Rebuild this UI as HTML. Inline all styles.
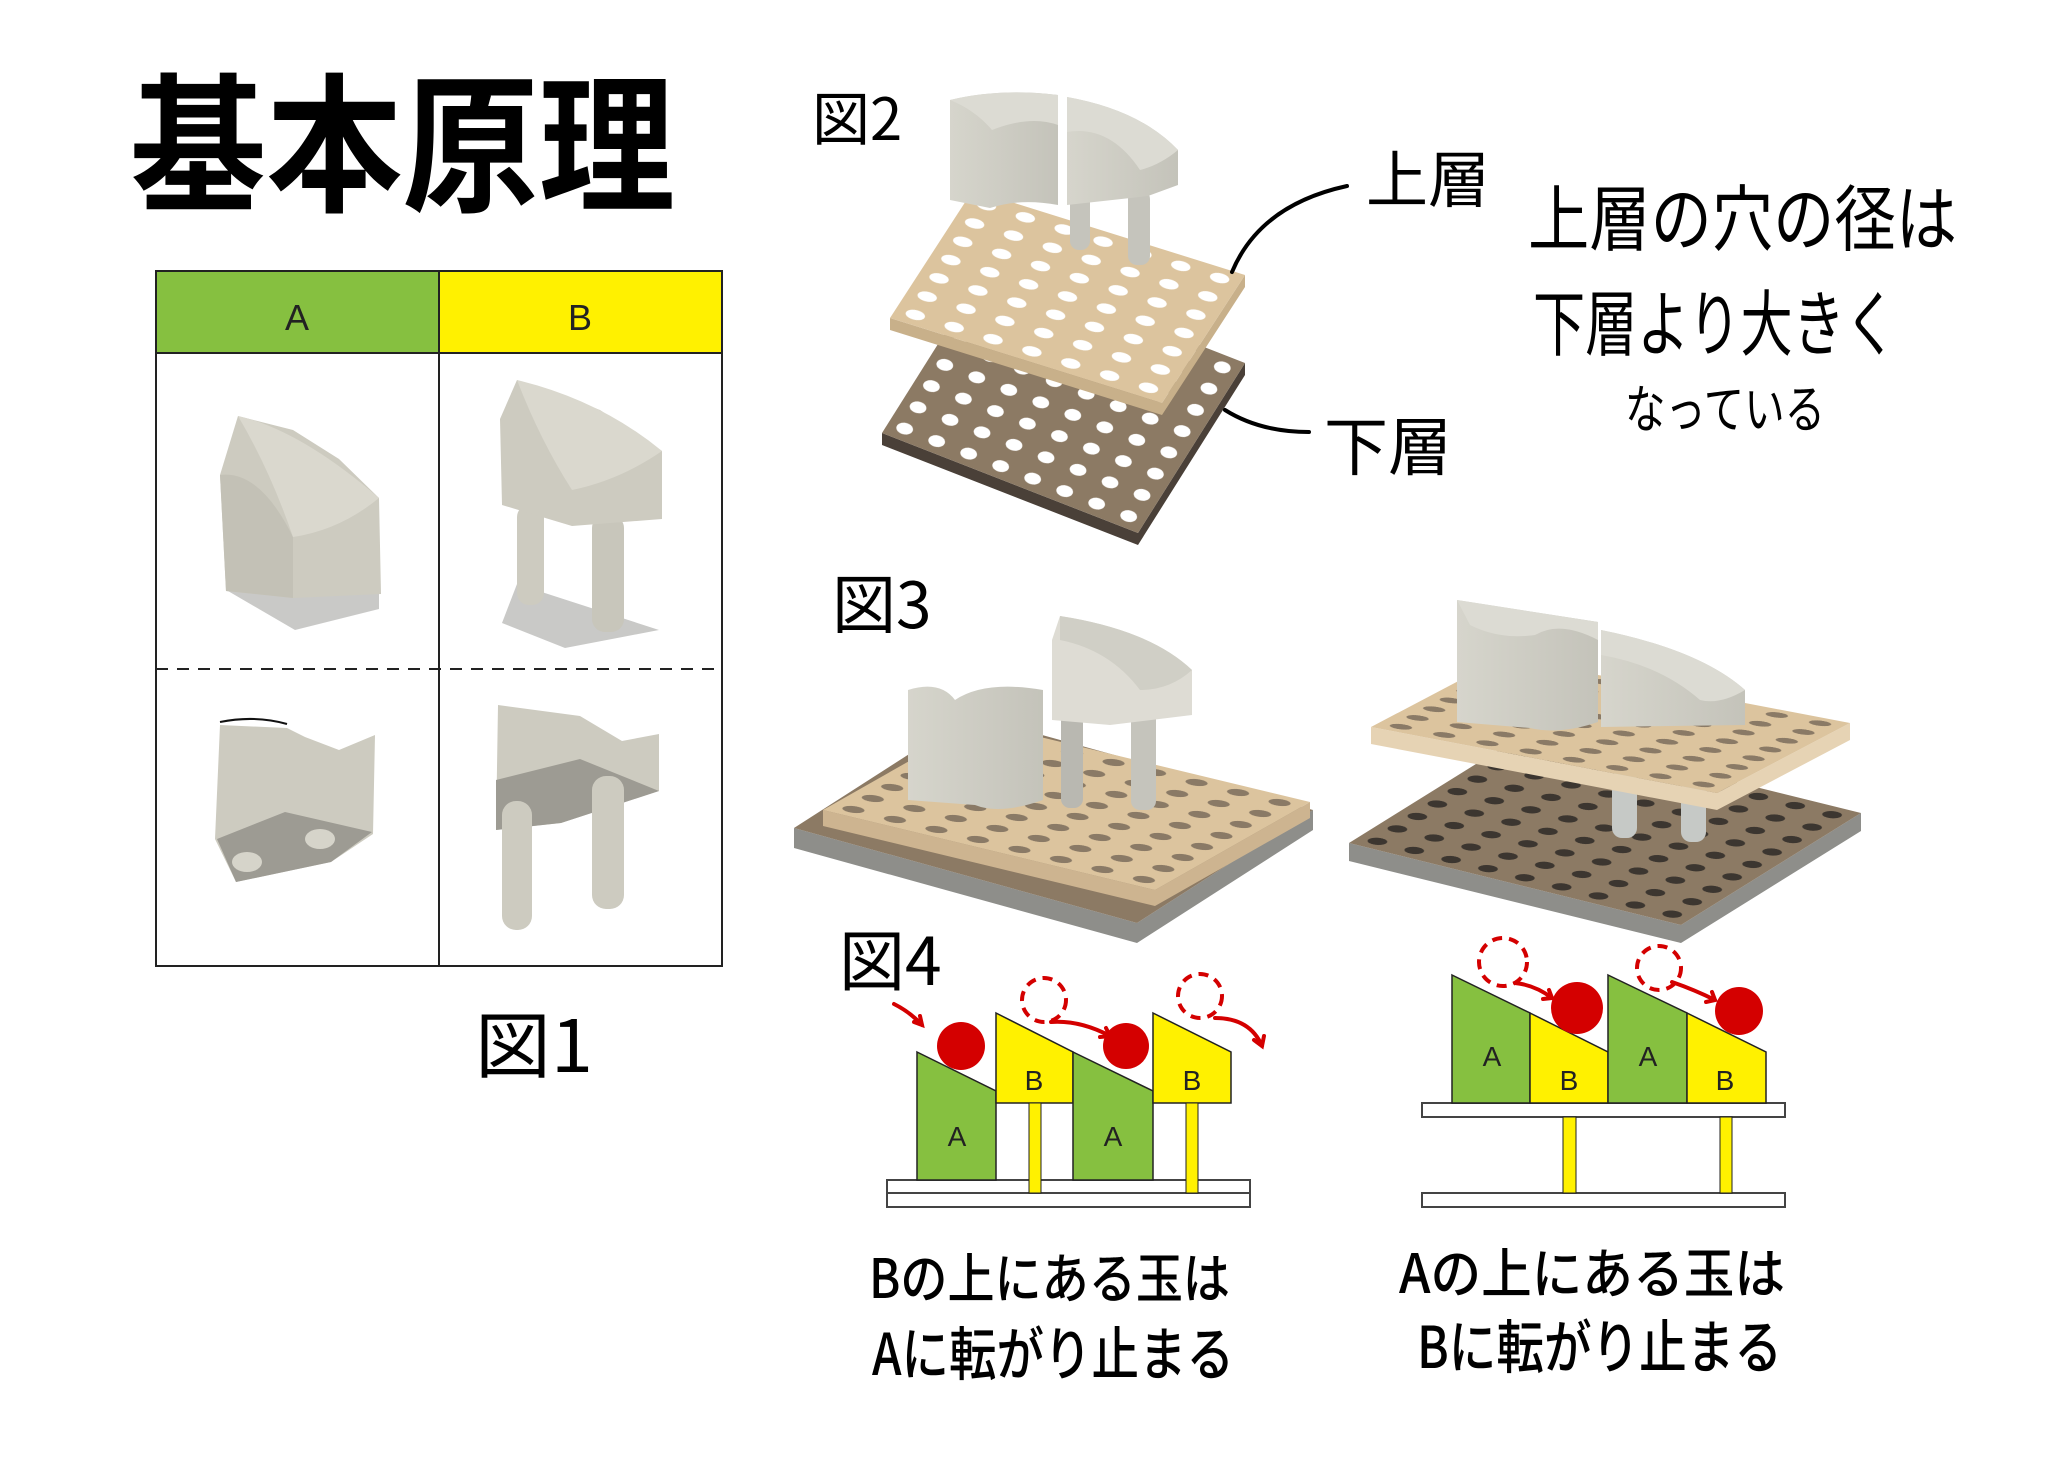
<!DOCTYPE html>
<html><head><meta charset="utf-8"><style>
html,body{margin:0;padding:0;background:#fff;}
svg{display:block;}
text{font-family:"Liberation Sans","Noto Sans CJK JP",sans-serif;}
.hw{font-family:"Noto Sans CJK JP","WenQuanYi Zen Hei",sans-serif;fill:#000;}
</style></head><body>
<svg width="2048" height="1460" viewBox="0 0 2048 1460" xmlns="http://www.w3.org/2000/svg">
<defs>
<pattern id="hl" width="0.142857" height="0.142857" patternUnits="userSpaceOnUse"><rect width="0.142857" height="0.142857" fill="#dcc49e"/><circle cx="0.0714" cy="0.0714" r="0.034" fill="#fff"/></pattern>
<pattern id="hd" width="0.125" height="0.125" patternUnits="userSpaceOnUse"><rect width="0.125" height="0.125" fill="#8c7a64"/><circle cx="0.0625" cy="0.0625" r="0.03" fill="#fff"/></pattern>
<pattern id="hl3" width="0.125" height="0.125" patternUnits="userSpaceOnUse"><rect width="0.125" height="0.125" fill="#dcc49e"/><circle cx="0.0625" cy="0.0625" r="0.03" fill="#8a7a66"/></pattern>
<pattern id="hd3" width="0.111" height="0.111" patternUnits="userSpaceOnUse"><rect width="0.111" height="0.111" fill="#8c7a64"/><circle cx="0.0555" cy="0.0555" r="0.026" fill="#3c3630"/></pattern>
<linearGradient id="gp" x1="0" y1="0" x2="1" y2="0"><stop offset="0" stop-color="#d6d5cc"/><stop offset="1" stop-color="#c4c3ba"/></linearGradient>
</defs>
<rect width="2048" height="1460" fill="#fff"/>

<!-- Title -->
<text class="hw" x="130" y="200" font-size="150" font-weight="700" textLength="545" lengthAdjust="spacingAndGlyphs">基本原理</text>

<!-- Table -->
<rect x="156" y="271" width="283" height="82" fill="#86c040"/>
<rect x="439" y="271" width="283" height="82" fill="#fff100"/>
<rect x="156" y="271" width="566" height="695" fill="none" stroke="#222" stroke-width="2"/>
<line x1="156" y1="353" x2="722" y2="353" stroke="#222" stroke-width="2"/>
<line x1="439" y1="271" x2="439" y2="966" stroke="#222" stroke-width="2"/>
<line x1="156" y1="669" x2="722" y2="669" stroke="#222" stroke-width="2" stroke-dasharray="12,9"/>
<text x="297" y="330" font-size="36" text-anchor="middle" fill="#222">A</text>
<text x="580" y="330" font-size="36" text-anchor="middle" fill="#222">B</text>

<!-- A top -->
<polygon points="228,591 379,594 379,609 295,630" fill="#c9c9c7"/>
<polygon points="220,475 238,416 293,430 339,459 379,498 381,594 293,598 226,591" fill="#cdcbc0"/>
<path d="M220,475 Q260,470 293,537 L293,598 L226,591 Z" fill="#c3c1b6"/>
<path d="M238,416 Q300,430 379,498 Q340,530 293,537 Q270,470 238,416 Z" fill="#dad8ce"/>
<!-- B top -->
<polygon points="502,623 517,584 659,630 565,648" fill="#c9c9c7"/>
<rect x="517" y="505" width="27" height="100" rx="12" fill="#cdcbc0"/>
<rect x="592" y="515" width="32" height="117" rx="13" fill="#c8c6bb"/>
<polygon points="500,419 517,380 600,410 662,451 662,519 572,526 502,505" fill="#cdcbc0"/>
<path d="M517,380 Q600,400 662,451 Q620,480 572,490 Q540,440 517,380 Z" fill="#dad8ce"/>
<!-- A bottom -->
<polygon points="220,725 287,728 305,737 339,750 375,735 373,834 331,862 236,882 215,839" fill="#cdcbc0"/>
<polygon points="217,839 285,812 372,832 331,862 236,882" fill="#9d9b93"/>
<path d="M220,722 Q255,715 287,724" stroke="#111" stroke-width="2" fill="none"/>
<ellipse cx="247" cy="862" rx="15" ry="10" fill="#d6d4ca"/>
<ellipse cx="320" cy="839" rx="15" ry="10" fill="#d6d4ca"/>
<!-- B bottom -->
<polygon points="498,705 580,716 622,741 659,734 659,791 561,823 496,830" fill="#cdcbc0"/>
<polygon points="496,780 580,759 659,791 561,823 496,830" fill="#9d9b93"/>
<rect x="502" y="801" width="30" height="129" rx="14" fill="#cdcbc0"/>
<rect x="592" y="776" width="32" height="133" rx="14" fill="#cdcbc0"/>

<text class="hw" x="475" y="1072" font-size="72" font-weight="400" textLength="118" lengthAdjust="spacingAndGlyphs">図1</text>

<!-- Fig 2 -->
<text class="hw" x="812" y="140" font-size="58" font-weight="400">図2</text>
<polygon points="882,433 1138,533 1245,363 1245,375 1138,545 882,445" fill="#4a4038"/>
<g transform="matrix(256 100 107 -170 882 433)"><rect width="1" height="1" fill="url(#hd)"/></g>
<polygon points="890,318 1162,403 1245,275 1245,287 1162,415 890,330" fill="#c8b08a"/>
<g transform="matrix(272 85 83 -128 890 318)"><rect width="1" height="1" fill="url(#hl)"/></g>
<rect x="1070" y="185" width="20" height="65" rx="9" fill="#c5c4bc"/>
<rect x="1128" y="190" width="22" height="75" rx="9" fill="#c5c4bc"/>
<path d="M950,100 Q1000,88 1058,95 L1058,205 Q1020,198 990,208 L950,200 Z" fill="url(#gp)"/>
<path d="M950,100 Q1000,88 1058,95 L1058,125 Q1030,115 992,130 Q975,110 950,100 Z" fill="#dcdbd3"/>
<path d="M1067,97 Q1140,110 1178,150 L1178,185 L1148,196 L1067,205 Z" fill="url(#gp)"/>
<path d="M1067,97 Q1140,110 1178,150 Q1160,165 1140,170 Q1110,125 1067,132 Z" fill="#dcdbd3"/>
<path d="M1232,272 Q1260,205 1347,186" stroke="#000" stroke-width="4" fill="none" stroke-linecap="round"/>
<path d="M1225,410 Q1260,432 1309,432" stroke="#000" stroke-width="4" fill="none" stroke-linecap="round"/>
<text class="hw" x="1366" y="202" font-size="62" font-weight="400">上層</text>
<text class="hw" x="1324" y="470" font-size="64" font-weight="400">下層</text>

<text class="hw" x="1528" y="245" font-size="72" font-weight="400" textLength="429" lengthAdjust="spacingAndGlyphs">上層の穴の径は</text>
<text class="hw" x="1533" y="350" font-size="72" font-weight="400" textLength="364" lengthAdjust="spacingAndGlyphs">下層より大きく</text>
<text class="hw" x="1625" y="428" font-size="52" font-weight="400" textLength="200" lengthAdjust="spacingAndGlyphs">なっている</text>

<!-- Fig 3 -->
<text class="hw" x="832" y="628" font-size="64" font-weight="400">図3</text>
<polygon points="794,828 1137,923 1313,810 1313,830 1137,943 794,848" fill="#8e8e8a"/>
<polygon points="794,828 1137,923 1313,810 970,715" fill="#8c7a64"/>
<polygon points="823,810 1155,890 1310,802 1310,818 1155,906 823,826" fill="#cdb490"/>
<g transform="matrix(332 80 155 -88 823 810)"><rect width="1" height="1" fill="url(#hl3)"/></g>
<path d="M908,690 Q940,680 955,700 Q985,680 1043,690 L1043,800 Q1000,815 975,805 L908,800 Z" fill="url(#gp)"/>
<rect x="1061" y="710" width="22" height="98" rx="9" fill="#b9b8b1"/>
<rect x="1131" y="710" width="25" height="100" rx="9" fill="#c5c4bc"/>
<path d="M1052,640 L1060,616 Q1150,630 1192,670 L1192,715 L1110,725 L1052,720 Z" fill="#dedcd4"/>
<path d="M1060,616 Q1150,630 1192,670 Q1170,690 1140,690 Q1110,650 1060,640 Z" fill="#d0cfc6"/>
<polygon points="1349,843 1681,925 1861,813 1861,831 1681,943 1349,861" fill="#8e8e8a"/>
<g transform="matrix(332 82 180 -112 1349 843)"><rect width="1" height="1" fill="url(#hd3)"/></g>
<rect x="1612" y="770" width="25" height="68" rx="10" fill="#c6c9c6"/>
<rect x="1681" y="780" width="25" height="62" rx="10" fill="#c6c9c6"/>
<polygon points="1371,727 1717,793 1850,723 1850,740 1717,810 1371,744" fill="#e6d3b4"/>
<g transform="matrix(346 66 133 -70 1371 727)"><rect width="1" height="1" fill="url(#hl3)"/></g>
<path d="M1457,600 L1598,622 L1598,722 Q1560,735 1530,728 L1457,722 Z" fill="url(#gp)"/>
<path d="M1457,600 L1598,622 L1598,640 Q1560,620 1535,635 Q1500,640 1470,625 Z" fill="#dcdbd3"/>
<path d="M1601,630 Q1700,650 1745,690 L1745,725 L1601,727 Z" fill="url(#gp)"/>
<path d="M1601,630 Q1700,650 1745,690 Q1720,705 1700,700 Q1660,665 1601,655 Z" fill="#dcdbd3"/>

<!-- Fig 4 -->
<text class="hw" x="839" y="985" font-size="66" font-weight="400">図4</text>
<rect x="887" y="1180" width="363" height="13" fill="#fff" stroke="#444" stroke-width="2"/>
<rect x="887" y="1193" width="363" height="14" fill="#fff" stroke="#444" stroke-width="2"/>
<polygon points="917,1052 996,1091 996,1180 917,1180" fill="#86c040" stroke="#222" stroke-width="1.5"/>
<polygon points="996,1013 1073,1052 1073,1103 996,1103" fill="#fff100" stroke="#222" stroke-width="1.5"/>
<rect x="1029" y="1103" width="12" height="90" fill="#fff100" stroke="#222" stroke-width="1"/>
<polygon points="1073,1052 1153,1091 1153,1180 1073,1180" fill="#86c040" stroke="#222" stroke-width="1.5"/>
<polygon points="1153,1013 1231,1052 1231,1103 1153,1103" fill="#fff100" stroke="#222" stroke-width="1.5"/>
<rect x="1186" y="1103" width="12" height="90" fill="#fff100" stroke="#222" stroke-width="1"/>
<text x="957" y="1146" font-size="28" text-anchor="middle" fill="#222">A</text>
<text x="1113" y="1146" font-size="28" text-anchor="middle" fill="#222">A</text>
<text x="1034" y="1090" font-size="28" text-anchor="middle" fill="#222">B</text>
<text x="1192" y="1090" font-size="28" text-anchor="middle" fill="#222">B</text>
<circle cx="961" cy="1046" r="24" fill="#d40000"/>
<circle cx="1126" cy="1046" r="23" fill="#d40000"/>
<circle cx="1044" cy="1000" r="22" fill="none" stroke="#d40000" stroke-width="4" stroke-dasharray="10,7"/>
<circle cx="1200" cy="996" r="22" fill="none" stroke="#d40000" stroke-width="4" stroke-dasharray="10,7"/>
<g stroke="#d40000" stroke-width="4" fill="none" stroke-linecap="round">
<path d="M894,1004 Q910,1012 922,1025 M914,1022 L922,1025 L920,1016"/>
<path d="M1051,1022 Q1080,1020 1110,1036 M1100,1037 L1110,1036 L1106,1028"/>
<path d="M1215,1018 Q1250,1018 1262,1046 M1254,1040 L1262,1046 L1264,1036"/>
</g>
<rect x="1422" y="1103" width="363" height="14" fill="#fff" stroke="#444" stroke-width="2"/>
<rect x="1422" y="1193" width="363" height="14" fill="#fff" stroke="#444" stroke-width="2"/>
<rect x="1563" y="1117" width="13" height="76" fill="#fff100" stroke="#222" stroke-width="1"/>
<rect x="1720" y="1117" width="12" height="76" fill="#fff100" stroke="#222" stroke-width="1"/>
<polygon points="1452,975 1530,1013 1530,1103 1452,1103" fill="#86c040" stroke="#222" stroke-width="1.5"/>
<polygon points="1530,1013 1608,1052 1608,1103 1530,1103" fill="#fff100" stroke="#222" stroke-width="1.5"/>
<polygon points="1608,975 1687,1013 1687,1103 1608,1103" fill="#86c040" stroke="#222" stroke-width="1.5"/>
<polygon points="1687,1013 1766,1052 1766,1103 1687,1103" fill="#fff100" stroke="#222" stroke-width="1.5"/>
<text x="1492" y="1066" font-size="28" text-anchor="middle" fill="#222">A</text>
<text x="1648" y="1066" font-size="28" text-anchor="middle" fill="#222">A</text>
<text x="1569" y="1090" font-size="28" text-anchor="middle" fill="#222">B</text>
<text x="1725" y="1090" font-size="28" text-anchor="middle" fill="#222">B</text>
<circle cx="1577" cy="1008" r="26" fill="#d40000"/>
<circle cx="1739" cy="1011" r="24" fill="#d40000"/>
<circle cx="1503" cy="962" r="24" fill="none" stroke="#d40000" stroke-width="4" stroke-dasharray="10,7"/>
<circle cx="1659" cy="968" r="22" fill="none" stroke="#d40000" stroke-width="4" stroke-dasharray="10,7"/>
<g stroke="#d40000" stroke-width="4" fill="none" stroke-linecap="round">
<path d="M1515,983 Q1535,985 1552,998 M1543,999 L1552,998 L1549,990"/>
<path d="M1672,982 Q1695,990 1715,1000 M1706,1002 L1715,1000 L1712,992"/>
</g>
<text class="hw" x="869" y="1298" font-size="54" font-weight="500" textLength="361" lengthAdjust="spacingAndGlyphs">Bの上にある玉は</text>
<text class="hw" x="872" y="1375" font-size="58" font-weight="500" textLength="362" lengthAdjust="spacingAndGlyphs">Aに転がり止まる</text>
<text class="hw" x="1399" y="1293" font-size="54" font-weight="500" textLength="386" lengthAdjust="spacingAndGlyphs">Aの上にある玉は</text>
<text class="hw" x="1417" y="1368" font-size="58" font-weight="500" textLength="365" lengthAdjust="spacingAndGlyphs">Bに転がり止まる</text>
</svg>
</body></html>
